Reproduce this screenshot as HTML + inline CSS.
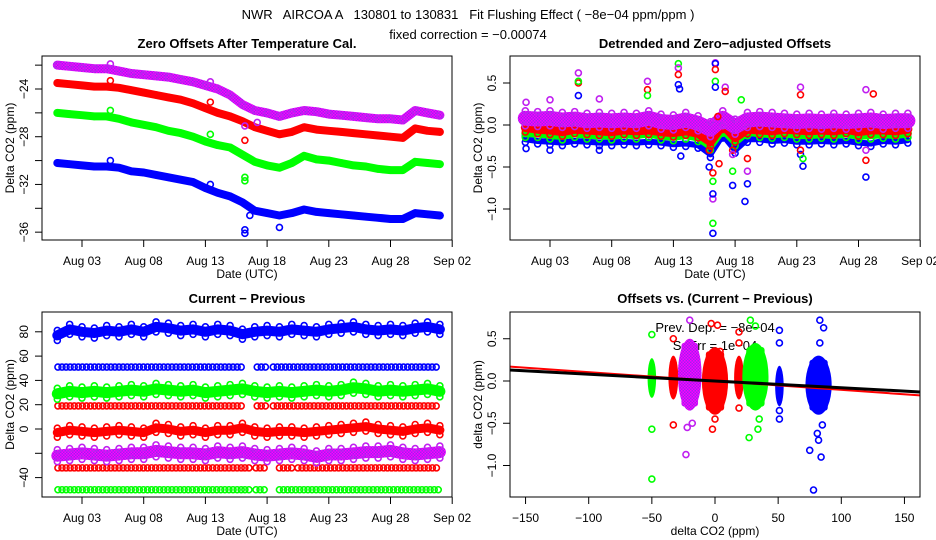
<!DOCTYPE html>
<html><head><meta charset="utf-8">
<style>
html,body{margin:0;padding:0;background:#fff;}
svg{display:block;font-family:"Liberation Sans",sans-serif;}
</style></head>
<body>
<svg id="chart" width="936" height="540" viewBox="0 0 936 540" xmlns="http://www.w3.org/2000/svg">
<defs>
<pattern id="pchk" width="3" height="3" patternUnits="userSpaceOnUse">
<rect width="3" height="3" fill="#a020f0"/><rect width="1.5" height="1.5" fill="#ff00ff"/><rect x="1.5" y="1.5" width="1.5" height="1.5" fill="#ff00ff"/>
</pattern>
</defs>
<text x="468" y="19" font-size="13" text-anchor="middle" xml:space="preserve">NWR   AIRCOA A   130801 to 130831   Fit Flushing Effect ( −8e−04 ppm/ppm )</text>
<text x="468" y="39" font-size="13" text-anchor="middle">fixed correction = −0.00074</text>
<g id="g"></g>
</svg>
<script>
// ---- Panel 1 data (daily, Aug 1..Aug 32) ----
const days = [1,2,3,4,5,6,7,8,9,10,11,12,13,14,15,16,17,18,19,20,21,22,23,24,25,26,27,28,29,30,31,32];
const p1Purple = [-22.0,-22.1,-22.2,-22.3,-22.3,-22.5,-22.7,-22.8,-22.9,-23.0,-23.2,-23.4,-23.7,-24.0,-24.5,-25.3,-25.8,-26.0,-26.3,-26.0,-25.8,-25.9,-26.1,-26.2,-26.3,-26.4,-26.5,-26.5,-26.6,-25.8,-26.0,-26.2];
const p1Red = [-23.5,-23.6,-23.7,-23.8,-23.8,-23.9,-24.1,-24.3,-24.5,-24.7,-24.9,-25.2,-25.6,-26.0,-26.3,-26.7,-27.2,-27.5,-27.8,-27.6,-27.2,-27.4,-27.5,-27.6,-27.7,-27.8,-27.9,-28.0,-28.1,-27.3,-27.5,-27.6];
const p1Green = [-26.0,-26.1,-26.2,-26.3,-26.3,-26.5,-26.8,-27.0,-27.2,-27.5,-27.7,-28.0,-28.4,-28.7,-28.9,-29.5,-30.1,-30.4,-30.6,-30.2,-29.6,-29.9,-30.0,-30.2,-30.4,-30.5,-30.7,-30.8,-30.8,-30.1,-30.2,-30.3];
const p1Blue = [-30.2,-30.3,-30.4,-30.5,-30.5,-30.6,-30.9,-31.0,-31.2,-31.4,-31.6,-31.8,-32.3,-32.7,-33.0,-33.5,-34.2,-34.4,-34.6,-34.4,-34.1,-34.3,-34.4,-34.5,-34.6,-34.7,-34.8,-34.9,-34.9,-34.4,-34.5,-34.6];
const p1OutDay = [5.3,5.3,5.3,5.3,13.4,13.4,13.4,13.4,16.2,16.2,16.2,16.2,16.2,16.2,19,16.6,17.2];
const p1OutVal = [-21.9,-23.3,-25.8,-30.0,-23.4,-25.1,-27.8,-32.0,-36.1,-35.8,-31.7,-31.4,-28.3,-27.1,-35.6,-34.6,-26.8];
const p1OutCol = ["p","r","g","b","p","r","g","b","b","b","g","g","r","p","b","b","p"];
// ---- Panel 2 data (detrended) ----
const p2Purple = [0.08,0.07,0.08,0.06,0.07,0.05,0.06,0.05,0.06,0.05,0.08,0.04,0.03,0.06,0.02,-0.05,0.08,-0.02,0.06,0.07,0.06,0.05,0.04,0.05,0.04,0.05,0.04,0.05,0.06,0.04,0.05,0.05];
const p2Red = [-0.03,-0.05,-0.06,-0.08,-0.05,-0.06,-0.07,-0.08,-0.06,-0.07,-0.06,-0.08,-0.09,-0.07,-0.1,-0.2,0.0,-0.15,-0.05,-0.06,-0.07,-0.05,-0.06,-0.07,-0.06,-0.07,-0.05,-0.08,-0.06,-0.06,-0.07,-0.05];
const p2Green = [-0.1,-0.1,-0.12,-0.13,-0.1,-0.12,-0.12,-0.13,-0.11,-0.12,-0.1,-0.13,-0.14,-0.12,-0.15,-0.25,-0.05,-0.2,-0.08,-0.1,-0.11,-0.1,-0.12,-0.12,-0.11,-0.12,-0.1,-0.13,-0.12,-0.11,-0.12,-0.1];
const p2Blue = [-0.17,-0.19,-0.2,-0.21,-0.19,-0.2,-0.21,-0.21,-0.2,-0.21,-0.2,-0.21,-0.23,-0.22,-0.24,-0.35,-0.12,-0.3,-0.17,-0.17,-0.19,-0.18,-0.2,-0.2,-0.19,-0.2,-0.19,-0.21,-0.22,-0.19,-0.2,-0.18];
const p2OutDay = [1.06,1.06,3,3,5.3,5.3,5.3,5.3,7,7,10.9,10.9,10.9,13.4,13.4,13.4,13.4,13.5,13.6,15.9,15.9,16.2,16.2,16.2,16.2,16.2,16.2,16.4,16.4,16.4,16.4,16.4,16.6,16.7,17.2,17.2,17.8,17.8,17.8,17.8,18.8,19,19,19,23.3,23.3,23.3,23.3,23.5,23.5,28.6,28.6,28.6,28.6,29.2,18.5];
const p2OutVal = [0.27,-0.28,0.3,-0.3,0.62,0.5,0.52,0.35,0.31,-0.3,0.52,0.42,0.35,0.73,0.68,0.6,0.48,0.43,-0.37,-0.3,-0.5,-0.88,-0.82,-0.67,-0.57,-1.17,-1.29,0.74,0.73,0.66,0.52,0.45,0.1,-0.46,0.45,0.4,-0.3,-0.55,-0.72,-0.35,-0.91,-0.4,-0.55,-0.7,0.45,0.36,-0.35,-0.3,-0.49,-0.4,0.42,-0.42,-0.62,-0.3,0.37,0.3];
const p2OutCol = ["p","b","p","b","p","r","g","b","p","b","p","r","g","g","p","r","b","b","b","r","b","p","b","g","r","g","b","p","b","r","g","b","r","r","p","r","r","g","b","p","b","r","p","b","p","r","b","r","b","g","p","r","b","p","r","g"];
// ---- Panel 3 data (current - previous) ----
const p3Blue = [77,82,80,79,81,80,82,80,84,83,81,82,80,82,81,78,80,81,80,82,81,80,82,83,84,82,81,82,81,83,84,82];
const p3Green = [29,31,30,31,30,31,32,31,33,32,31,32,30,31,32,33,31,30,31,30,31,32,31,32,34,33,31,32,31,32,33,31];
const p3Red = [-3,-1,-2,-3,-2,-1,-2,-3,1,0,-2,-1,-3,-1,-1,1,-2,-3,-2,-2,-3,-2,-1,0,1,2,0,-1,-2,0,1,-1];
const p3Purple = [-22,-21,-20,-21,-22,-21,-20,-20,-18,-19,-20,-20,-21,-19,-20,-19,-21,-22,-21,-20,-21,-23,-21,-21,-20,-19,-19,-18,-20,-21,-20,-19];
const constLevels = [51,19,-32,-50];
const constCols = ["b","r","r","g"];
const constSegStart = [[1.05,17.2,18.5],[1.05,17.2,18.5],[1.05,16.2,17.1,19,20.5],[1.05,16.2,17.1,19]];
const constSegEnd = [[15.9,17.9,32],[15.9,17.9,32],[15.9,16.7,18,20.2,32],[15.9,16.8,17.9,32]];
// ---- Panel 4 data (clusters) ----
const clX = [-50,-33,-20,0,19,32,51,82];
const clHalfW = [1,1.5,7,8,1.5,8,1,8];
const clLow = [-0.2,-0.22,-0.35,-0.4,-0.22,-0.35,-0.3,-0.4];
const clHigh = [0.27,0.3,0.5,0.4,0.3,0.45,0.18,0.3];
const clCol = ["g","r","p","r","r","g","b","b"];
const p4OutX = [-50,-50,-50,-33,-33,-20,-23,-18,-22,-3,2,-2,0,4,19,19,19,28,32,35,27,34,51,51,51,51,83,78,84,81,75,86,82,85,83];
const p4OutY = [0.55,-0.57,-1.16,0.5,-0.52,0.72,-0.87,-0.5,-0.55,0.68,0.66,-0.57,-0.45,0.35,0.58,0.45,-0.32,0.72,0.65,-0.45,-0.67,-0.57,0.6,0.45,-0.35,-0.45,0.72,-1.29,-0.9,-0.62,-0.82,0.63,-0.7,-0.52,0.45];
const p4OutCol = ["g","g","g","r","r","p","p","p","p","r","r","r","r","r","r","r","r","g","g","g","g","g","b","b","b","b","b","b","b","b","b","b","b","b","b"];
const fitSlopeBlack = -0.0008, fitSlopeRed = -0.00105;

const COL = {p:"url(#pchk)", r:"#ff0000", g:"#00ff00", b:"#0000ff"};
const SCOL = {p:"#c020f0", r:"#ff0000", g:"#00ff00", b:"#0000ff"};
const NS = "http://www.w3.org/2000/svg";
const root = document.getElementById('g');
function mk(tag, attrs, parent, txt){
  const e = document.createElementNS(NS, tag);
  for (const k in attrs) e.setAttribute(k, attrs[k]);
  if (txt !== undefined) e.textContent = txt;
  (parent||root).appendChild(e);
  return e;
}
function panel(name){
  const g = mk('g', {});
  
  
  return g;
}
const dayX = (off) => (d) => off + 82 + (d - 3) * 12.34;
function dateAxis(g, off, B){
  const dx = dayX(off);
  const labs = ["Aug 03","Aug 08","Aug 13","Aug 18","Aug 23","Aug 28","Sep 02"];
  const ax = mk('g', {}, g);
  
  
  mk('line', {x1:dx(3), x2:dx(33), y1:B, y2:B, stroke:"#000"}, ax);
  labs.forEach((l,i)=>{
    const x = dx(3+5*i);
    mk('line', {x1:x, x2:x, y1:B, y2:B+7, stroke:"#000"}, ax);
    const t = mk('text', {x:x, y:B+25, "font-size":12, "text-anchor":"middle"}, ax, l);
    
    
  });
  const t = mk('text', {x:off+247, y:B+38, "font-size":12, "text-anchor":"middle"}, ax, "Date (UTC)");
  
  
}
function yAxis(g, L, ticks, labels, ys, title, T, B){
  const ax = mk('g', {}, g);
  
  
  ticks.forEach((v,i)=>{
    const y = ys(v);
    mk('line', {x1:L-7, x2:L, y1:y, y2:y, stroke:"#000"}, ax);
    if (labels[i] !== "") {
      const t = mk('text', {x:0, y:0, "font-size":12, "text-anchor":"middle", transform:`translate(${L-14},${y}) rotate(-90)`}, ax, labels[i]);
      
      
    }
  });
  const t = mk('text', {x:0, y:0, "font-size":12, "text-anchor":"middle", transform:`translate(${L-28},${(T+B)/2}) rotate(-90)`}, ax, title);
  
  
}
function box(g, L, T, R, B){
  const r = mk('rect', {x:L, y:T, width:R-L, height:B-T, fill:"none", stroke:"#000"}, g);
  
  
}
function title(g, x, y, s){
  const t = mk('text', {x:x, y:y, "font-size":13, "font-weight":"bold", "text-anchor":"middle"}, g, s);
  
  
}
function band(g, xs, vals, xf, yf, c, w, name, edge){
  const pts = vals.map((v,i)=>xf(xs[i]).toFixed(1)+","+yf(v).toFixed(1)).join(" ");
  const pl = mk('polyline', {points:pts, fill:"none", stroke:SCOL[c], "stroke-width":w, "stroke-linejoin":"round", "stroke-linecap":"round"}, g);
  
  
  if (c==="p") pl.setAttribute('stroke', COL.p);
  const offs = edge ? [-w/2, w/2] : [0];
  vals.forEach((v,i)=>{
    offs.forEach(o=>{
      const ci = mk('circle', {cx:xf(xs[i]), cy:yf(v)+o, r:3, fill:"none", stroke:SCOL[c], "stroke-width":1.6}, g);
      
      
    });
  });
}
function pt(g, x, y, c, name){
  const ci = mk('circle', {cx:x, cy:y, r:3, fill:"none", stroke:SCOL[c], "stroke-width":1.6}, g);
  
  
}

// ===== Panel 1 =====
(function(){
  const L=42,T=56,R=452,B=240;
  const g = panel('zero-offsets-panel');
  const ys = v => 89 - (v + 24) * 11.93;
  const xf = dayX(0);
  title(g, 247, 48, "Zero Offsets After Temperature Cal.");
  band(g, days, p1Purple, xf, ys, "p", 9, 'series-purple');
  band(g, days, p1Red, xf, ys, "r", 8, 'series-red');
  band(g, days, p1Green, xf, ys, "g", 8, 'series-green');
  band(g, days, p1Blue, xf, ys, "b", 8, 'series-blue');
  p1OutDay.forEach((d,i)=>pt(g, xf(d), ys(p1OutVal[i]), p1OutCol[i], 'outlier-point'));
  box(g,L,T,R,B);
  yAxis(g, L, [-22,-24,-26,-28,-30,-32,-34,-36], ["","−24","","−28","","−32","","−36"], ys, "Delta CO2 (ppm)", T, B);
  dateAxis(g, 0, B);
})();
// ===== Panel 2 =====
(function(){
  const L=510,T=56,R=920,B=240;
  const g = panel('detrended-offsets-panel');
  const ys = v => 125 - v * 84;
  const xf = dayX(468);
  title(g, 715, 48, "Detrended and Zero−adjusted Offsets");
  band(g, days, p2Blue, xf, ys, "b", 6, 'series-blue', true);
  band(g, days, p2Green, xf, ys, "g", 8, 'series-green', true);
  band(g, days, p2Red, xf, ys, "r", 9, 'series-red', true);
  band(g, days, p2Purple, xf, ys, "p", 15, 'series-purple', true);
  p2OutDay.forEach((d,i)=>pt(g, xf(d), ys(p2OutVal[i]), p2OutCol[i], 'outlier-point'));
  box(g,L,T,R,B);
  yAxis(g, L, [0.5,0,-0.5,-1.0], ["0.5","0.0","−0.5","−1.0"], ys, "Delta CO2 (ppm)", T, B);
  dateAxis(g, 468, B);
})();
// ===== Panel 3 =====
(function(){
  const L=42,T=312,R=452,B=497;
  const g = panel('current-minus-previous-panel');
  const ys = v => 429 - v * 1.215;
  const xf = dayX(0);
  title(g, 247, 303, "Current − Previous");
  constLevels.forEach((lv,k)=>{
    constSegStart[k].forEach((s,j)=>{
      const e = constSegEnd[k][j];
      for (let d=s; d<=e+0.001; d+=0.33) pt(g, xf(d), ys(lv), constCols[k], 'constant-level-point');
    });
  });
  band(g, days, p3Blue, xf, ys, "b", 10, 'series-blue', true);
  band(g, days, p3Green, xf, ys, "g", 11, 'series-green', true);
  band(g, days, p3Red, xf, ys, "r", 9, 'series-red', true);
  band(g, days, p3Purple, xf, ys, "p", 12, 'series-purple', true);
  box(g,L,T,R,B);
  yAxis(g, L, [80,60,40,20,0,-20,-40], ["80","60","40","20","0","","−40"], ys, "Delta CO2 (ppm)", T, B);
  dateAxis(g, 0, B);
})();
// ===== Panel 4 =====
(function(){
  const L=510,T=312,R=920,B=497;
  const g = panel('offsets-vs-difference-panel');
  const xs = v => 715 + v * 1.263;
  const ys = v => 381 - v * 84.5;
  title(g, 715, 303, "Offsets vs. (Current − Previous)");
  const t1 = mk('text', {x:715, y:332, "font-size":13, "text-anchor":"middle"}, g, "Prev. Dep. =  −8e−04");
  
  
  const t2 = mk('text', {x:715, y:350, "font-size":13, "text-anchor":"middle"}, g, "S. Err =  1e−04");
  
  
  clX.forEach((cx,i)=>{
    const x0 = xs(cx - clHalfW[i]) - 3, x1 = xs(cx + clHalfW[i]) + 3;
    const y0 = ys(clHigh[i]), y1 = ys(clLow[i]);
    const el = mk('ellipse', {cx:(x0+x1)/2, cy:(y0+y1)/2, rx:(x1-x0)/2, ry:(y1-y0)/2, fill:COL[clCol[i]]}, g);
    
    
    const rc = mk('rect', {x:x0+(x1-x0)*0.15, y:y0+4, width:(x1-x0)*0.7, height:y1-y0-8, rx:3, fill:COL[clCol[i]]}, g);
    
    
  });
  p4OutX.forEach((x,i)=>pt(g, xs(x), ys(p4OutY[i]), p4OutCol[i], 'outlier-point'));
  const lr = mk('line', {x1:L, x2:R, y1:ys(fitSlopeRed*-162), y2:ys(fitSlopeRed*162), stroke:"#ff0000", "stroke-width":2}, g);
  
  
  const lb = mk('line', {x1:L, x2:R, y1:ys(fitSlopeBlack*-162), y2:ys(fitSlopeBlack*162), stroke:"#000", "stroke-width":3}, g);
  
  
  box(g,L,T,R,B);
  yAxis(g, L, [0.5,0,-0.5,-1.0], ["0.5","0.0","−0.5","−1.0"], ys, "delta CO2 (ppm)", T, B);
  const ax = mk('g', {}, g);
  
  
  [-150,-100,-50,0,50,100,150].forEach(v=>{
    mk('line', {x1:xs(v), x2:xs(v), y1:B, y2:B+7, stroke:"#000"}, ax);
    const t = mk('text', {x:xs(v), y:B+25, "font-size":12, "text-anchor":"middle"}, ax, v<0 ? "−"+(-v) : String(v));
    
    
  });
  const tt = mk('text', {x:715, y:B+38, "font-size":12, "text-anchor":"middle"}, ax, "delta CO2 (ppm)");
  
  
})();
</script>
</body></html>
